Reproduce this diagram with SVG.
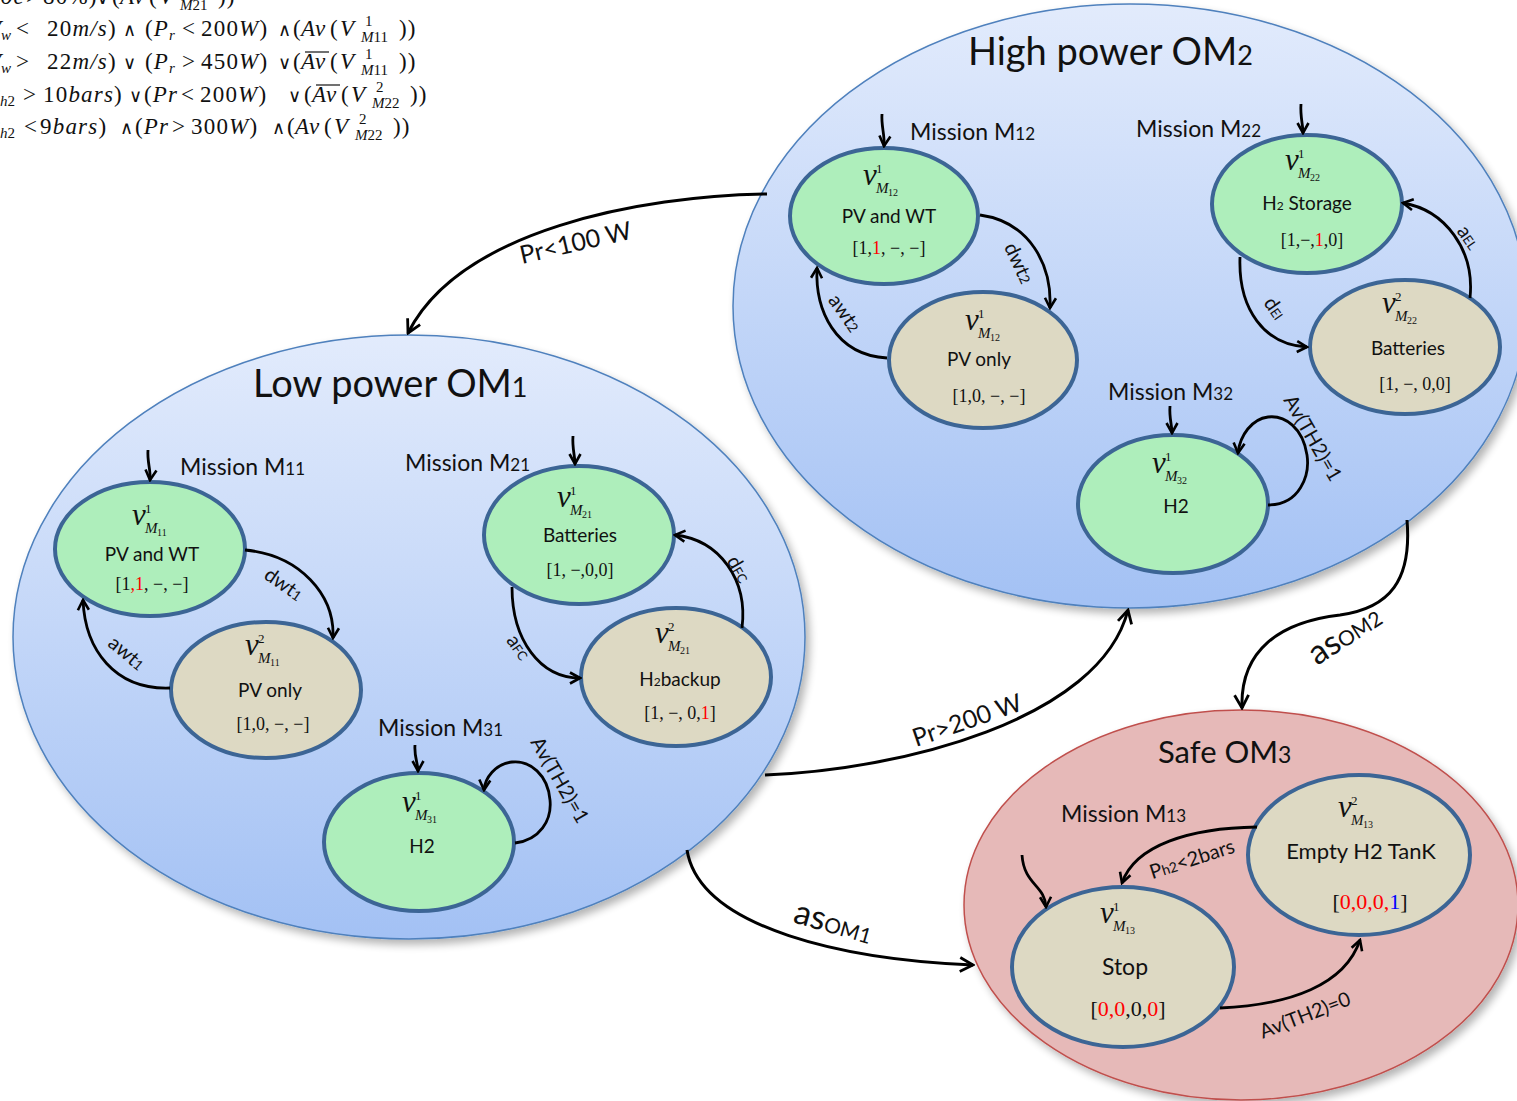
<svg xmlns="http://www.w3.org/2000/svg" width="1517" height="1101" viewBox="0 0 1517 1101">
<defs>
<linearGradient id="gb" x1="0" y1="0" x2="0" y2="1">
<stop offset="0" stop-color="#e2ebfc"/>
<stop offset="1" stop-color="#a3c1f4"/>
</linearGradient>
<filter id="sh" x="-10%" y="-10%" width="125%" height="125%">
<feGaussianBlur in="SourceAlpha" stdDeviation="4"/>
<feOffset dx="4" dy="5" result="o"/>
<feComponentTransfer><feFuncA type="linear" slope="0.3"/></feComponentTransfer>
<feMerge><feMergeNode/><feMergeNode in="SourceGraphic"/></feMerge>
</filter>
<marker id="ah" viewBox="0 0 14 14" refX="12" refY="7" markerWidth="14" markerHeight="14" markerUnits="userSpaceOnUse" orient="auto">
<path d="M2,1.5 L12,7 L2,12.5" fill="none" stroke="#000" stroke-width="2.6"/>
</marker>
<marker id="ahb" viewBox="0 0 18 18" refX="16" refY="9" markerWidth="18" markerHeight="18" markerUnits="userSpaceOnUse" orient="auto">
<path d="M3,2 L16,9 L3,16" fill="none" stroke="#000" stroke-width="2.8"/>
</marker>
<style>
.om{fill:url(#gb);stroke:#4f81bd;stroke-width:1.5}
.safe{fill:#e6b9b8;stroke:#c0504d;stroke-width:1.5}
.n{stroke:#3c6595;stroke-width:4}
.g{fill:#aeeebb}
.t{fill:#ddd9c3}
.e{fill:none;stroke:#000;stroke-width:2.8;marker-end:url(#ah)}
.eb{fill:none;stroke:#000;stroke-width:3;marker-end:url(#ahb)}
.lab{font-family:Lato,"Liberation Sans",sans-serif;font-size:19px;fill:#111;text-anchor:middle}
.vec{font-family:"Liberation Serif",serif;font-size:18px;fill:#111;text-anchor:middle}
.vv{font-family:"Liberation Serif",serif;font-style:italic;font-size:31px;fill:#111}
.vs{font-family:"Liberation Serif",serif;font-size:13px;fill:#111}
.vm{font-family:"Liberation Serif",serif;font-style:italic;font-size:15px;fill:#111}
.vn{font-family:"Liberation Serif",serif;font-size:10px;fill:#111}
.ttl{font-family:Lato,"Liberation Sans",sans-serif;font-size:38px;fill:#111}
.ms{font-family:Lato,"Liberation Sans",sans-serif;font-size:23px;fill:#111}
.el{font-family:Lato,"Liberation Sans",sans-serif;font-size:20px;fill:#111;text-anchor:middle}
.big{font-family:Lato,"Liberation Sans",sans-serif;font-size:25px;fill:#111}
.math{font-family:"Liberation Serif",serif;font-size:23px;letter-spacing:1.2px;fill:#111}
.op{font-family:"DejaVu Sans",sans-serif;font-size:18px;font-weight:normal;letter-spacing:0}
.sm{font-size:15px;letter-spacing:0}
.i{font-style:italic}
.r{fill:#ff0000}
.b{fill:#0000ff}
</style>
</defs>
<rect width="1517" height="1101" fill="#fff"/>

<g id="formulas">
<text class="math" y="4"><tspan x="-12" class="i">Soc</tspan><tspan x="26">&gt;</tspan><tspan x="43">80%)</tspan><tspan x="96" class="op">∨</tspan><tspan x="112">(</tspan><tspan x="120" class="i">Av</tspan><tspan x="149">(</tspan><tspan x="159" class="i">V</tspan><tspan x="184" y="-6" class="sm">2</tspan><tspan x="180" y="10" class="sm i">M</tspan><tspan class="sm">21</tspan><tspan x="218" y="4">))</tspan></text>
<text class="math" y="36"><tspan x="-13" class="i">V</tspan><tspan x="1" y="40" class="sm i">w</tspan><tspan x="16" y="36">&lt;</tspan><tspan x="47">20</tspan><tspan class="i">m/s</tspan>)<tspan x="123" class="op">∧</tspan><tspan x="145">(</tspan><tspan class="i">P</tspan><tspan y="40" class="sm i">r</tspan><tspan x="182" y="36">&lt;</tspan><tspan x="201">200</tspan><tspan class="i">W</tspan>)<tspan x="278" class="op">∧</tspan><tspan x="293">(</tspan><tspan x="301" class="i">Av</tspan><tspan x="330">(</tspan><tspan x="340" class="i">V</tspan><tspan x="365" y="26" class="sm">1</tspan><tspan x="361" y="42" class="sm i">M</tspan><tspan class="sm">11</tspan><tspan x="399" y="36">))</tspan></text>
<text class="math" y="69"><tspan x="-13" class="i">V</tspan><tspan x="1" y="73" class="sm i">w</tspan><tspan x="16" y="69">&gt;</tspan><tspan x="47">22</tspan><tspan class="i">m/s</tspan>)<tspan x="123" class="op">∨</tspan><tspan x="145">(</tspan><tspan class="i">P</tspan><tspan y="73" class="sm i">r</tspan><tspan x="182" y="69">&gt;</tspan><tspan x="201">450</tspan><tspan class="i">W</tspan>)<tspan x="278" class="op">∨</tspan><tspan x="293">(</tspan><tspan x="301" class="i">Av</tspan><tspan x="330">(</tspan><tspan x="340" class="i">V</tspan><tspan x="365" y="59" class="sm">1</tspan><tspan x="361" y="75" class="sm i">M</tspan><tspan class="sm">11</tspan><tspan x="399" y="69">))</tspan></text>
<line x1="305" y1="52" x2="329" y2="52" stroke="#111" stroke-width="1.2"/>
<text class="math" y="102"><tspan x="-14" class="i">P</tspan><tspan x="0" y="106" class="sm i">h</tspan><tspan y="106" class="sm">2</tspan><tspan x="23" y="102">&gt;</tspan><tspan x="43">10</tspan><tspan class="i">bars</tspan>)<tspan x="129" class="op">∨</tspan><tspan x="144">(</tspan><tspan class="i">Pr</tspan><tspan x="181">&lt;</tspan><tspan x="200">200</tspan><tspan class="i">W</tspan>)<tspan x="288" class="op">∨</tspan><tspan x="304">(</tspan><tspan x="312" class="i">Av</tspan><tspan x="341">(</tspan><tspan x="351" class="i">V</tspan><tspan x="376" y="92" class="sm">2</tspan><tspan x="372" y="108" class="sm i">M</tspan><tspan class="sm">22</tspan><tspan x="410" y="102">))</tspan></text>
<line x1="316" y1="85" x2="340" y2="85" stroke="#111" stroke-width="1.2"/>
<text class="math" y="134"><tspan x="-14" class="i">P</tspan><tspan x="0" y="138" class="sm i">h</tspan><tspan y="138" class="sm">2</tspan><tspan x="24" y="134">&lt;</tspan><tspan x="40">9</tspan><tspan class="i">bars</tspan>)<tspan x="120" class="op">∧</tspan><tspan x="135">(</tspan><tspan class="i">Pr</tspan><tspan x="172">&gt;</tspan><tspan x="191">300</tspan><tspan class="i">W</tspan>)<tspan x="272" class="op">∧</tspan><tspan x="287">(</tspan><tspan x="295" class="i">Av</tspan><tspan x="324">(</tspan><tspan x="334" class="i">V</tspan><tspan x="359" y="124" class="sm">2</tspan><tspan x="355" y="140" class="sm i">M</tspan><tspan class="sm">22</tspan><tspan x="393" y="134">))</tspan></text>
</g>

<g id="OM1">
<ellipse class="om" cx="409" cy="637" rx="396" ry="302" filter="url(#sh)"/>
<text class="ttl" x="253" y="397">Low power OM<tspan font-size="27">1</tspan></text>
</g>
<g id="OM2">
<ellipse class="om" cx="1130" cy="306" rx="397" ry="302" filter="url(#sh)"/>
<text class="ttl" x="968" y="65">High power OM<tspan font-size="27">2</tspan></text>
</g>
<g id="OM3">
<ellipse class="safe" cx="1241" cy="905" rx="277" ry="195" filter="url(#sh)"/>
<text class="ttl" x="1158" y="763" style="font-size:31px">Safe OM<tspan font-size="23">3</tspan></text>
</g>

<g id="missions">
<text class="ms" x="910" y="140">Mission M<tspan font-size="17">12</tspan></text>
<text class="ms" x="1136" y="137">Mission M<tspan font-size="17">22</tspan></text>
<text class="ms" x="1108" y="400">Mission M<tspan font-size="17">32</tspan></text>
<text class="ms" x="180" y="475">Mission M<tspan font-size="17">11</tspan></text>
<text class="ms" x="405" y="471">Mission M<tspan font-size="17">21</tspan></text>
<text class="ms" x="378" y="736">Mission M<tspan font-size="17">31</tspan></text>
<text class="ms" x="1061" y="822">Mission M<tspan font-size="17">13</tspan></text>
</g>

<g id="v1M12">
<ellipse class="n g" cx="884" cy="216" rx="94" ry="68"/>
<text class="vv" x="863" y="185">v</text><text class="vs" x="876" y="173">1</text><text class="vm" x="876" y="193">M</text><text class="vn" x="888" y="196">12</text>
<text class="lab" x="889" y="223">PV and WT</text>
<text class="vec" x="889" y="254">[1,<tspan class="r">1</tspan>, −, −]</text>
</g>
<g id="v2M12">
<ellipse class="n t" cx="983" cy="360" rx="94" ry="68"/>
<text class="vv" x="965" y="330">v</text><text class="vs" x="978" y="318">1</text><text class="vm" x="978" y="338">M</text><text class="vn" x="990" y="341">12</text>
<text class="lab" x="979" y="366">PV only</text>
<text class="vec" x="989" y="402">[1,0, −, −]</text>
</g>
<g id="v1M22">
<ellipse class="n g" cx="1307" cy="204" rx="95" ry="69"/>
<text class="vv" x="1285" y="170">v</text><text class="vs" x="1298" y="158">1</text><text class="vm" x="1298" y="178">M</text><text class="vn" x="1310" y="181">22</text>
<text class="lab" x="1307" y="210">H<tspan font-size="12">2</tspan> Storage</text>
<text class="vec" x="1312" y="246">[1,−,<tspan class="r">1</tspan>,0]</text>
</g>
<g id="v2M22">
<ellipse class="n t" cx="1405" cy="347" rx="95" ry="67"/>
<text class="vv" x="1382" y="313">v</text><text class="vs" x="1395" y="301">2</text><text class="vm" x="1395" y="321">M</text><text class="vn" x="1407" y="324">22</text>
<text class="lab" x="1408" y="355">Batteries</text>
<text class="vec" x="1415" y="390">[1, −, 0,0]</text>
</g>
<g id="v1M32">
<ellipse class="n g" cx="1173" cy="504" rx="95" ry="69"/>
<text class="vv" x="1152" y="473">v</text><text class="vs" x="1165" y="461">1</text><text class="vm" x="1165" y="481">M</text><text class="vn" x="1177" y="484">32</text>
<text class="lab" x="1176" y="513">H2</text>
</g>
<g id="v1M11">
<ellipse class="n g" cx="150" cy="549" rx="95" ry="67"/>
<text class="vv" x="132" y="525">v</text><text class="vs" x="145" y="513">1</text><text class="vm" x="145" y="533">M</text><text class="vn" x="157" y="536">11</text>
<text class="lab" x="152" y="561">PV and WT</text>
<text class="vec" x="152" y="590">[1<tspan class="r">,1</tspan>, −, −]</text>
</g>
<g id="v2M11">
<ellipse class="n t" cx="266" cy="690" rx="95" ry="68"/>
<text class="vv" x="245" y="655">v</text><text class="vs" x="258" y="643">2</text><text class="vm" x="258" y="663">M</text><text class="vn" x="270" y="666">11</text>
<text class="lab" x="270" y="697">PV only</text>
<text class="vec" x="273" y="730">[1,0, −, −]</text>
</g>
<g id="v1M21">
<ellipse class="n g" cx="579" cy="535" rx="95" ry="69"/>
<text class="vv" x="557" y="507">v</text><text class="vs" x="570" y="495">1</text><text class="vm" x="570" y="515">M</text><text class="vn" x="582" y="518">21</text>
<text class="lab" x="580" y="542">Batteries</text>
<text class="vec" x="580" y="576">[1, −,0,0]</text>
</g>
<g id="v2M21">
<ellipse class="n t" cx="676" cy="677" rx="95" ry="69"/>
<text class="vv" x="655" y="643">v</text><text class="vs" x="668" y="631">2</text><text class="vm" x="668" y="651">M</text><text class="vn" x="680" y="654">21</text>
<text class="lab" x="680" y="686">H<tspan font-size="12">2</tspan>backup</text>
<text class="vec" x="680" y="719">[1, −, 0,<tspan class="r">1</tspan>]</text>
</g>
<g id="v1M31">
<ellipse class="n g" cx="419" cy="842" rx="95" ry="69"/>
<text class="vv" x="402" y="812">v</text><text class="vs" x="415" y="800">1</text><text class="vm" x="415" y="820">M</text><text class="vn" x="427" y="823">31</text>
<text class="lab" x="422" y="853">H2</text>
</g>
<g id="v2M13">
<ellipse class="n t" cx="1359" cy="855" rx="111" ry="80"/>
<text class="vv" x="1338" y="817">v</text><text class="vs" x="1351" y="805">2</text><text class="vm" x="1351" y="825">M</text><text class="vn" x="1363" y="828">13</text>
<text class="lab" x="1361" y="859" style="font-size:22px">Empty H2 TanK</text>
<text class="vec" x="1370" y="909" style="font-size:22px">[<tspan class="r">0,0,0,</tspan><tspan class="b">1</tspan>]</text>
</g>
<g id="v1M13">
<ellipse class="n t" cx="1123" cy="967" rx="111" ry="80"/>
<text class="vv" x="1100" y="923">v</text><text class="vs" x="1113" y="911">1</text><text class="vm" x="1113" y="931">M</text><text class="vn" x="1125" y="934">13</text>
<text class="lab" x="1125" y="975" style="font-size:23px">Stop</text>
<text class="vec" x="1128" y="1016" style="font-size:22px">[<tspan class="r">0,0</tspan>,0,<tspan class="r">0</tspan>]</text>
</g>

<g id="connectors">
<path class="e" d="M882,114 C881,126 885,135 884,146"/>
<path class="e" d="M1301,104 C1300,116 1303,125 1303,133"/>
<path class="e" d="M1170,406 C1169,418 1172,425 1172,433"/>
<path class="e" d="M148,450 C147,462 151,470 150,480"/>
<path class="e" d="M573,436 C572,448 575,456 575,464"/>
<path class="e" d="M415,745 C414,757 418,763 418,771"/>
<path class="e" d="M1022,855 C1024,885 1045,885 1046,907"/>
<path class="e" d="M980,215 C1030,222 1052,265 1050,308"/>
<path class="e" d="M887,358 C835,355 815,310 817,268"/>
<path class="e" d="M1470,298 C1475,250 1445,210 1403,203"/>
<path class="e" d="M1240,257 C1238,310 1265,345 1307,347"/>
<path class="e" d="M1268,505 C1300,505 1310,475 1307,455 C1303,428 1285,415 1268,417 C1252,419 1240,435 1238,453"/>
<path class="e" d="M245,550 C300,555 335,595 333,638"/>
<path class="e" d="M170,688 C115,690 85,650 83,600"/>
<path class="e" d="M742,628 C748,580 720,540 675,535"/>
<path class="e" d="M512,587 C512,640 540,678 580,678"/>
<path class="e" d="M515,843 C540,840 552,820 550,800 C548,775 530,760 512,762 C495,764 485,778 484,790"/>
<path class="e" d="M1257,827 C1190,828 1135,845 1122,883"/>
<path class="e" d="M1220,1008 C1290,1005 1345,985 1360,940"/>
<path class="eb" d="M767,194 C640,196 460,230 408,333"/>
<path class="eb" d="M765,775 C900,770 1100,720 1128,610"/>
<path class="eb" d="M687,850 C700,930 850,960 973,965"/>
<path class="eb" d="M1407,520 C1412,580 1390,608 1340,615 C1280,622 1240,650 1242,708"/>

<text class="el" transform="translate(1019,263) rotate(65)" dy="0.35em">dwt<tspan font-size="14">2</tspan></text>
<text class="el" transform="translate(845,313) rotate(55)" dy="0.35em">awt<tspan font-size="14">2</tspan></text>
<text class="el" transform="translate(284,584) rotate(35)" dy="0.35em">dwt<tspan font-size="14">1</tspan></text>
<text class="el" transform="translate(127,653) rotate(40)" dy="0.35em">awt<tspan font-size="14">1</tspan></text>
<text class="el" transform="translate(1469,237) rotate(55)" dy="0.35em">a<tspan font-size="13">EL</tspan></text>
<text class="el" transform="translate(1275,308) rotate(55)" dy="0.35em">d<tspan font-size="13">El</tspan></text>
<text class="el" transform="translate(739,569) rotate(60)" dy="0.35em">d<tspan font-size="13">FC</tspan></text>
<text class="el" transform="translate(519,647) rotate(55)" dy="0.35em">a<tspan font-size="13">FC</tspan></text>
<text class="el" transform="translate(1313,438) rotate(60)" dy="0.35em">Av(TH2)=1</text>
<text class="el" transform="translate(560,780) rotate(60)" dy="0.35em">Av(TH2)=1</text>
<text class="el" transform="translate(1192,859) rotate(-18)" dy="0.35em">P<tspan font-size="14">h2</tspan>&lt;2bars</text>
<text class="el" transform="translate(1305,1015) rotate(-21)" dy="0.35em">Av(TH2)=0</text>
<text class="big" transform="translate(522,264) rotate(-13)">Pr&lt;100 W</text>
<text class="big" transform="translate(916,747) rotate(-19)">Pr&gt;200 W</text>
<text class="big" transform="translate(792,922) rotate(16)" style="font-size:34px">as<tspan font-size="21">OM1</tspan></text>
<text class="big" transform="translate(1317,666) rotate(-33)" style="font-size:34px">as<tspan font-size="21">OM2</tspan></text>
</g>
</svg>
